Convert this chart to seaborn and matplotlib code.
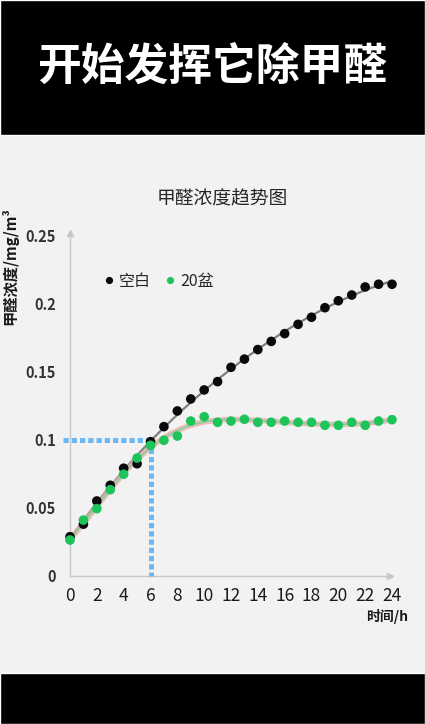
import numpy as np
import pandas as pd
import matplotlib
matplotlib.use("Agg")
import matplotlib.pyplot as plt
from matplotlib.patches import Rectangle
import seaborn as sns

# data
hours = list(range(25))
blank = [0.0288, 0.038, 0.055, 0.0665, 0.079, 0.0823, 0.0985, 0.1095, 0.121, 0.1298, 0.1364,
         0.1425, 0.153, 0.159, 0.166, 0.172, 0.1777, 0.1845, 0.1897, 0.1967, 0.2018,
         0.206, 0.2119, 0.2139, 0.2139]
pots20 = [0.0264, 0.041, 0.0494, 0.0633, 0.0746, 0.0865, 0.0958, 0.0995, 0.1026, 0.1136, 0.1168,
          0.1127, 0.1136, 0.1149, 0.1127, 0.1127, 0.1136, 0.1127, 0.1127, 0.1105, 0.1105,
          0.1127, 0.1105, 0.1136, 0.1146]
series_names = ['空白', '20盆']
x_ticks = list(range(0, 25, 2))
y_ticks = [0, 0.05, 0.1, 0.15, 0.2, 0.25]
y_tick_labels = ['0', '0.05', '0.1', '0.15', '0.2', '0.25']
mark_hour = 6
mark_level = 0.1

sns.set_theme(style="white")
plt.rcParams['font.family'] = ['Noto Sans CJK SC', 'DejaVu Sans']

df = pd.DataFrame({
    'hour': hours * 2,
    'value': blank + pots20,
    'group': [series_names[0]] * len(hours) + [series_names[1]] * len(hours),
})

bg = '#f2f2f2'
fig = plt.figure(figsize=(4.25, 7.24), dpi=100, facecolor=bg)
ax = fig.add_axes([70 / 425, 1 - 576 / 724, 322 / 425, 341 / 724])
ax.set_facecolor(bg)

# black bands top and bottom
fig.patches.append(Rectangle((0, 1 - 135 / 724), 1, 135 / 724, transform=fig.transFigure,
                             facecolor='black', zorder=0))
fig.patches.append(Rectangle((0, 0), 1, 51 / 724, transform=fig.transFigure,
                             facecolor='black', zorder=0))
fig.text(0.5, 1 - 67 / 724, '开始发挥它除甲醛', color='white', fontsize=31.5,
         fontweight='bold', ha='center', va='center')

# trend lines
xs = np.linspace(0, 24, 200)
fit_blank = np.polyval(np.polyfit(hours, blank, 4), xs)
fit_pots = np.polyval(np.polyfit(hours, pots20, 6), xs)
sns.lineplot(x=xs, y=fit_blank, ax=ax, color='#7f7f7f', lw=1.6, zorder=2)
sns.lineplot(x=xs, y=fit_pots, ax=ax, color='#e9adad', lw=4, alpha=0.75, zorder=2)
sns.lineplot(x=xs, y=fit_pots, ax=ax, color='#86d197', lw=1.2, zorder=3)

# dotted guide lines
guide = dict(color='#6db7f4', lw=3.6, linestyle=(0, (1.05, 0.6)), solid_capstyle='butt',
             dash_capstyle='butt', clip_on=False, zorder=4)
ax.plot([-0.5, mark_hour], [mark_level, mark_level], **guide)
ax.plot([mark_hour, mark_hour], [mark_level, 0], **guide)

sns.scatterplot(data=df, x='hour', y='value', hue='group',
                palette={series_names[0]: '#0a0a0a', series_names[1]: '#1ec35a'},
                s=48, edgecolor='none', ax=ax, zorder=5, clip_on=False)

ax.set_xlim(0, 24)
ax.set_ylim(0, 0.25)
ax.set_xticks(x_ticks)
ax.set_yticks(y_ticks)
ax.set_yticklabels(y_tick_labels)
ax.tick_params(axis='x', labelsize=12.5, labelcolor='#1a1a1a', length=3, color='#c8c8c8', pad=5)
ax.tick_params(axis='y', labelsize=10.5, labelcolor='#333333', length=4, color='#c8c8c8', pad=6)
for lab in ax.get_yticklabels():
    lab.set_fontweight('bold')
ax.set_xlabel('')
ax.set_ylabel('')
for side in ['top', 'right']:
    ax.spines[side].set_visible(False)
for side in ['left', 'bottom']:
    ax.spines[side].set_color('#c8c8c8')
    ax.spines[side].set_linewidth(1)
# axis arrows
ax.plot(0, 1.005, marker='^', color='#c8c8c8', ms=4.5, transform=ax.transAxes, clip_on=False)
ax.plot(0.995, 0, marker='>', color='#c8c8c8', ms=4.5, transform=ax.transAxes, clip_on=False)

ax.legend(loc='center left', bbox_to_anchor=(0.105, 0.865), ncol=2, frameon=False,
          handlelength=0.6, handletextpad=0.35, columnspacing=0.9, fontsize=11.5,
          borderpad=0, borderaxespad=0, markerscale=0.75)

fig.text(222 / 425, 1 - 199 / 724, '甲醛浓度趋势图', fontsize=13.5, color='#262626',
         ha='center', va='center')
fig.text(10 / 425, 1 - 266 / 724, '甲醛浓度/mg/m³', fontsize=11, color='#1a1a1a',
         fontweight='bold', rotation=90, ha='center', va='center')
fig.text(387 / 425, 1 - 617 / 724, '时间/h', fontsize=10, color='#1a1a1a',
         fontweight='bold', ha='center', va='center')

fig.savefig('out.png', dpi=100, facecolor=bg)
